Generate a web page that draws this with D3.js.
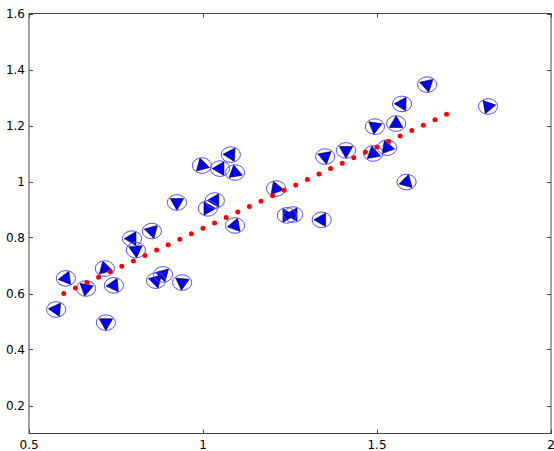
<!DOCTYPE html>
<html>
<head>
<meta charset="utf-8">
<script src="https://cdn.jsdelivr.net/npm/d3@7"></script>
<style>
  html, body { margin: 0; padding: 0; background: #fff; }
  svg { display: block; }
  text { font-family: "DejaVu Sans", sans-serif; font-size: 12px; fill: #000; }
</style>
</head>
<body>
<svg id="chart" width="554" height="451"></svg>
<script>
// ---- data ----
const pointX = [0.578, 0.606, 0.664, 0.721, 0.718, 0.744, 0.796, 0.807, 0.853, 0.865,
                0.885, 0.940, 0.925, 0.997, 1.049, 1.080, 1.092, 1.034, 1.014, 1.092,
                1.210, 1.241, 1.259, 1.341, 1.351, 1.411, 1.489, 1.529, 1.494, 1.555,
                1.572, 1.585, 1.644, 1.819];
const pointY = [0.543, 0.654, 0.618, 0.496, 0.689, 0.629, 0.796, 0.755, 0.823, 0.646,
                0.668, 0.639, 0.925, 1.057, 1.046, 1.096, 1.032, 0.932, 0.904, 0.843,
                0.975, 0.879, 0.882, 0.863, 1.089, 1.111, 1.100, 1.121, 1.196, 1.207,
                1.277, 0.998, 1.346, 1.268];
// direction (degrees, counter-clockwise from +x) of one triangle vertex
const pointAngle = [55, 68, 20, 30, 105, 65, 60, 35, 45, 45,
                    45, 25, 30, 105, 60, 57, 100, 60, 0, 70,
                    110, 0, 60, 60, 40, 30, 100, 110, 22, 90,
                    58, 75, 42, 10];
const fitX = [0.6, 1.7];
const fitY = [0.6, 1.24];
const xTicks = [0.5, 1, 1.5, 2];
const xTickLabels = ["0.5", "1", "1.5", "2"];
const yTicks = [0.2, 0.4, 0.6, 0.8, 1.0, 1.2, 1.4, 1.6];
const yTickLabels = ["0.2", "0.4", "0.6", "0.8", "1", "1.2", "1.4", "1.6"];

// ---- layout ----
const plotL = 29, plotR = 551, plotT = 13.5, plotB = 433.5;
const x = d3.scaleLinear().domain([0.5, 2]).range([plotL, plotR]);
const y = d3.scaleLinear().domain([0.1, 1.6]).range([plotB, plotT]);

const svg = d3.select("#chart");

// markers: triangles
const pts = pointX.map((v, i) => ({x: v, y: pointY[i], a: pointAngle[i]}));
const R = 7.8;
function triPath(d) {
  const cx = x(d.x), cy = y(d.y);
  const p = [0, 120, 240].map(k => {
    const t = (d.a + k) * Math.PI / 180;
    return [cx + R * Math.cos(t), cy - R * Math.sin(t)];
  });
  return "M" + p.map(q => q.join(",")).join("L") + "Z";
}
svg.append("g").selectAll("path").data(pts).join("path")
  .attr("d", triPath)
  .attr("fill", "#0000ff")
  .attr("stroke", "#000")
  .attr("stroke-width", 0.6)
  .attr("stroke-linejoin", "miter");

svg.append("g").selectAll("ellipse").data(pts).join("ellipse")
  .attr("cx", d => x(d.x))
  .attr("cy", d => y(d.y))
  .attr("rx", 9.6)
  .attr("ry", 7.8)
  .attr("fill", "none")
  .attr("stroke", "#5050ff")
  .attr("stroke-width", 1);

// fit line (dotted, red)
const line = d3.line().x(d => x(d[0])).y(d => y(d[1]));
const fitData = fitX.map((v, i) => [v, fitY[i]]);
const fitPath = svg.append("path")
  .attr("d", line(fitData))
  .attr("fill", "none")
  .attr("stroke", "#ff0000")
  .attr("stroke-width", 5)
  .attr("stroke-linecap", "round");
const L = fitPath.node().getTotalLength();
fitPath.attr("stroke-dasharray", `0 ${L / 33 - 0.001}`);

// frame
svg.append("rect")
  .attr("x", plotL).attr("y", plotT)
  .attr("width", plotR - plotL).attr("height", plotB - plotT)
  .attr("fill", "none").attr("stroke", "#444").attr("stroke-width", 1);

// ticks (inward, all four sides)
const tl = 4;
const tg = svg.append("g").attr("stroke", "#444").attr("stroke-width", 1);
xTicks.forEach(t => {
  const px = Math.round(x(t)) + 0.5;
  tg.append("line").attr("x1", px).attr("x2", px).attr("y1", plotB).attr("y2", plotB - tl);
  tg.append("line").attr("x1", px).attr("x2", px).attr("y1", plotT).attr("y2", plotT + tl);
});
yTicks.forEach(t => {
  const py = Math.round(y(t)) + 0.5;
  tg.append("line").attr("y1", py).attr("y2", py).attr("x1", plotL).attr("x2", plotL + tl);
  tg.append("line").attr("y1", py).attr("y2", py).attr("x1", plotR).attr("x2", plotR - tl);
});

// tick labels
svg.append("g").selectAll("text").data(xTicks).join("text")
  .attr("x", d => x(d))
  .attr("y", 449)
  .attr("text-anchor", "middle")
  .text((d, i) => xTickLabels[i]);
svg.append("g").selectAll("text").data(yTicks).join("text")
  .attr("x", 25)
  .attr("y", d => y(d))
  .attr("dy", "0.36em")
  .attr("text-anchor", "end")
  .text((d, i) => yTickLabels[i]);
</script>
</body>
</html>
